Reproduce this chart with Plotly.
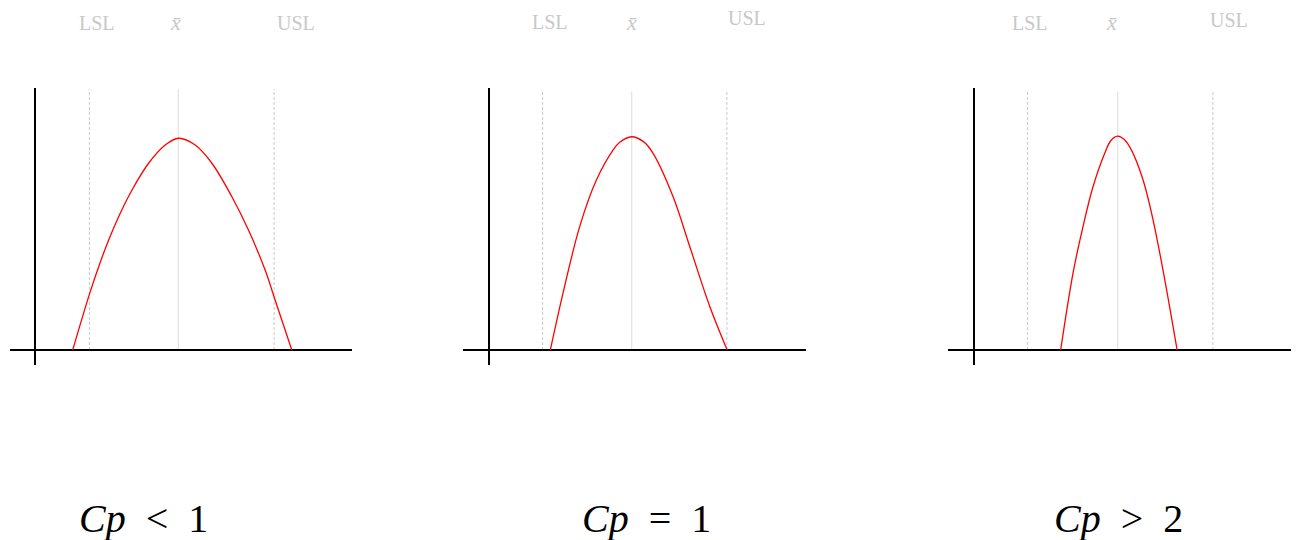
import plotly.graph_objects as go

# Process-capability sketches: three normal-like curves against spec limits.
# x: distance from the vertical axis (process units), y: density in % of peak.
panel_titles = ["<i>Cp</i> &lt; 1", "<i>Cp</i> = 1", "<i>Cp</i> &gt; 2"]

lsl = [5.4, 5.4, 5.4]
mean = [14.3, 14.3, 14.4]
usl = [23.9, 23.8, 23.9]

curve1_x = [3.73, 5.43, 6.33, 7.33, 8.33, 9.67, 11.33, 13.0, 14.33, 16.0, 17.67, 19.67, 21.33, 23.0, 24.0, 25.67]
curve1_y = [0, 26.7, 39.3, 51.9, 62.9, 75.5, 88.1, 96.7, 99.9, 96.7, 88.1, 72.3, 56.6, 37.7, 23.6, 0]

curve2_x = [6.17, 7.43, 9.1, 10.77, 12.43, 13.1, 14.27, 15.47, 16.43, 18.43, 20.1, 22.1, 23.83]
curve2_y = [0, 26.7, 58.2, 80.2, 94.3, 98.0, 100.6, 98.3, 92.8, 72.3, 48.7, 20.4, 0]

curve3_x = [8.7, 9.93, 10.93, 11.93, 13.1, 13.7, 14.37, 15.03, 15.77, 16.93, 17.93, 19.1, 20.33]
curve3_y = [0, 36.2, 58.2, 77.0, 92.8, 98.7, 100.9, 99.4, 94.3, 80.2, 61.3, 33.0, 0]

curves = [(curve1_x, curve1_y), (curve2_x, curve2_y), (curve3_x, curve3_y)]
line_top = [123, 122, 122]

W, H = 1299, 540
X_RANGE = [-2.55, 31.7]
Y_RANGE = [-7.08, 123.6]
# panel frames in pixels: left edge, right edge of the baseline
frames = [(10, 352), (463, 806), (948, 1291)]
y_dom = [1 - 365 / H, 1 - 88 / H]

GREY = "#c8c8c8"
fig = go.Figure()
shapes = []
annotations = []

for i, (cx, cy) in enumerate(curves):
    ax = "" if i == 0 else str(i + 1)
    fig.add_trace(go.Scatter(
        x=cx, y=cy, mode="lines", line=dict(color="#ff0000", width=1.3, shape="spline", smoothing=1.0),
        xaxis="x" + ax, yaxis="y" + ax, showlegend=False, hoverinfo="skip"))
    for xv, dash, col in [(lsl[i], "3px,2px", GREY), (usl[i], "3px,2px", GREY), (mean[i], "solid", "#dcdcdc")]:
        shapes.append(dict(type="line", xref="x" + ax, yref="y" + ax, x0=xv, x1=xv, y0=0, y1=line_top[i],
                           line=dict(color=col, width=1, dash=dash), layer="below"))
    x0, x1 = frames[i]
    fig.layout["xaxis" + ax] = dict(domain=[x0 / W, x1 / W], range=X_RANGE, anchor="y" + ax,
                                    showgrid=False, showticklabels=False, ticks="", showline=False,
                                    zeroline=True, zerolinecolor="black", zerolinewidth=2.3, fixedrange=True)
    fig.layout["yaxis" + ax] = dict(domain=y_dom, range=Y_RANGE, anchor="x" + ax,
                                    showgrid=False, showticklabels=False, ticks="", showline=False,
                                    zeroline=True, zerolinecolor="black", zerolinewidth=2.3, fixedrange=True)

# top labels (pixel positions of text centres)
top_labels = [
    ("LSL", 97, 23), ("<i>x̄</i>", 176, 22), ("USL", 296, 23),
    ("LSL", 550, 22), ("<i>x̄</i>", 631, 22), ("USL", 747, 18),
    ("LSL", 1030, 23), ("<i>x̄</i>", 1111, 22), ("USL", 1229, 20),
]
for txt, px, py in top_labels:
    size = 22 if "x̄" in txt else 20
    annotations.append(dict(text=txt, x=px / W, y=1 - py / H, xref="paper", yref="paper",
                            xanchor="center", yanchor="middle", showarrow=False,
                            font=dict(family="Liberation Serif", size=size, color=GREY)))

bottom_pos = [(143, 518), (646, 518), (1118, 518)]
for txt, (px, py) in zip(panel_titles, bottom_pos):
    annotations.append(dict(text=txt.replace(" ", "&nbsp;&nbsp;"), x=px / W, y=1 - py / H, xref="paper", yref="paper",
                            xanchor="center", yanchor="middle", showarrow=False,
                            font=dict(family="Liberation Serif", size=40, color="black")))

fig.update_layout(width=W, height=H, margin=dict(l=0, r=0, t=0, b=0),
                  paper_bgcolor="white", plot_bgcolor="white",
                  shapes=shapes, annotations=annotations, showlegend=False)

fig.write_html("out.html", config={"displayModeBar": False})
